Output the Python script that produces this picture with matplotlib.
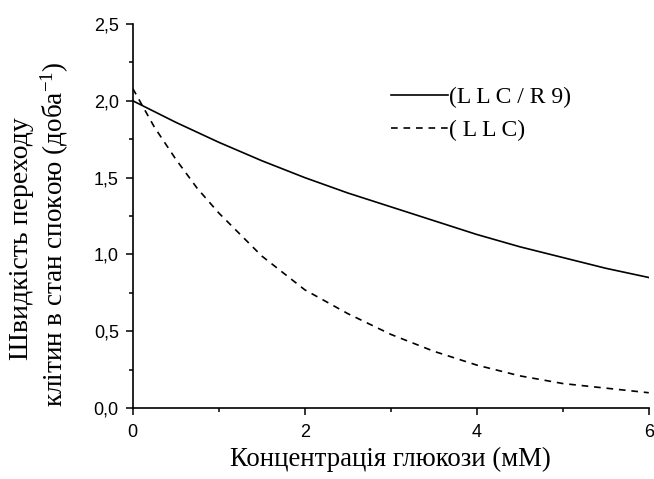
import numpy as np
import matplotlib.pyplot as plt
from matplotlib.ticker import MultipleLocator, FuncFormatter

# концентрація глюкози (мМ)
glucose = [0, 0.25, 0.5, 0.75, 1, 1.5, 2, 2.5, 3, 3.5, 4, 4.5, 5, 5.5, 6]
# LLC / R9
rate_llc_r9 = [2.0, 1.93, 1.86, 1.795, 1.73, 1.61, 1.50, 1.40, 1.31, 1.22, 1.13, 1.05, 0.98, 0.91, 0.85]
# LLC
rate_llc = [2.08, 1.83, 1.62, 1.43, 1.27, 0.99, 0.77, 0.615, 0.48, 0.37, 0.28, 0.21, 0.16, 0.13, 0.10]

legend_labels = ['(L L C / R 9)', '( L L C)']
x_ticks = [0, 2, 4, 6]
y_ticks = [0.0, 0.5, 1.0, 1.5, 2.0, 2.5]

serif = 'Liberation Serif'
sans = 'Liberation Sans'
plt.rcParams['mathtext.fontset'] = 'custom'
plt.rcParams['mathtext.rm'] = serif
plt.rcParams['mathtext.it'] = serif

fig = plt.figure(figsize=(6.54, 4.79), dpi=100)
ax = fig.add_axes([0.203, 0.148, 0.789, 0.802])

ax.plot(glucose, rate_llc_r9, color='black', lw=1.2, label=legend_labels[0])
ax.plot(glucose, rate_llc, color='black', lw=1.2, linestyle=(0, (4, 3.5)), label=legend_labels[1])

ax.set_xlim(0, 6)
ax.set_ylim(0, 2.5)
ax.set_xticks(x_ticks)
ax.set_yticks(y_ticks)
ax.xaxis.set_minor_locator(MultipleLocator(1))
ax.yaxis.set_minor_locator(MultipleLocator(0.25))
ax.yaxis.set_major_formatter(FuncFormatter(lambda v, p: ('%.1f' % v).replace('.', ',')))

for s in ['top', 'right']:
    ax.spines[s].set_visible(False)
for s in ['left', 'bottom']:
    ax.spines[s].set_linewidth(1.2)
ax.tick_params(which='major', direction='out', length=5, width=1.1, labelsize=13)
ax.tick_params(which='minor', direction='out', length=3, width=1.1)
ax.tick_params(axis='x', which='major', pad=6.3)
ax.tick_params(axis='y', which='major', pad=5)
for lb in ax.get_xticklabels() + ax.get_yticklabels():
    lb.set_fontfamily(sans)

ax.set_xlabel('Концентрація глюкози (мМ)', fontsize=19.3, family=serif)
ax.xaxis.set_label_coords(0.5, -0.1015)

# підпис осі y у два рядки
fig.text(0.033, 0.501, 'Швидкість переходу', rotation=90, ha='center', va='center',
         fontsize=20, family=serif)
fig.text(0.084, 0.511, 'клітин в стан спокою (доба$^{-1}$)', rotation=90, ha='center',
         va='center', fontsize=19.5, family=serif)

ax.legend(loc='center left', bbox_to_anchor=(391 / 654, 1 - 114 / 479),
          bbox_transform=fig.transFigure, frameon=False, borderpad=0, borderaxespad=0,
          prop={'family': serif, 'size': 17}, handlelength=2.42,
          handletextpad=0.05, labelspacing=0.47)

fig.savefig('out.png', dpi=100)
